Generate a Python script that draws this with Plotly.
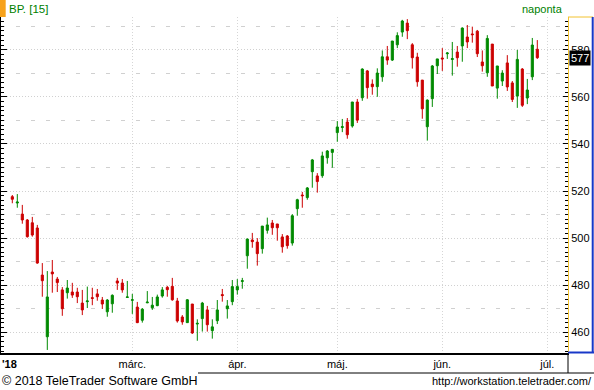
import plotly.graph_objects as go

# Trading-day candles (BP., daily), late Jan 2018 .. end of June 2018
opens = [517.6, 514.9, 510.2, 507.7, 506.5, 504.3, 484.3, 458.1, 485.6, 482.6,
         478.0, 476.8, 477.1, 477.1, 472.4, 473.0, 474.7, 476.3, 473.7, 468.7,
         472.1, 481.8, 480.9, 474.8, 473.6, 470.7, 465.1, 472.5, 470.4, 471.3,
         475.4, 479.1, 479.5, 473.3, 466.5, 464.1, 472.0, 463.5, 465.8, 469.5,
         460.7, 464.9, 476.0, 470.0, 473.0, 478.0, 481.6, 492.5, 499.2, 498.3,
         495.5, 503.3, 506.4, 506.0, 500.5, 500.9, 497.9, 512.5, 518.3, 517.2,
         528.2, 526.4, 526.5, 534.1, 536.4, 544.8, 547.0, 549.3, 547.6, 557.8,
         559.6, 571.0, 565.4, 564.3, 568.5, 577.0, 575.6, 582.1, 587.5, 591.3,
         582.1, 576.9, 567.1, 547.3, 559.2, 573.2, 576.5, 578.3, 575.9, 579.0,
         581.6, 585.4, 586.7, 587.9, 574.8, 570.2, 582.4, 563.7, 566.7, 574.4,
         565.9, 560.3, 571.8, 559.5, 568.5, 580.2]
highs = [518.3, 518.7, 514.1, 508.1, 509.0, 505.6, 489.4, 486.0, 490.7, 483.5,
         479.2, 482.2, 481.0, 478.9, 478.0, 479.4, 478.9, 478.4, 475.0, 474.1,
         476.1, 483.1, 482.6, 481.8, 476.3, 472.9, 470.3, 477.5, 475.0, 476.0,
         479.2, 479.7, 483.1, 474.6, 467.3, 474.1, 472.0, 465.5, 472.9, 471.2,
         465.5, 473.7, 478.4, 473.7, 482.2, 482.6, 483.1, 499.8, 502.2, 500.0,
         505.1, 508.7, 507.7, 506.0, 501.7, 501.3, 510.2, 516.7, 519.6, 521.7,
         533.6, 527.6, 536.7, 537.4, 537.7, 549.7, 550.6, 551.0, 557.8, 559.1,
         572.1, 571.4, 567.4, 572.1, 579.7, 581.6, 583.7, 587.4, 592.7, 593.0,
         582.8, 578.7, 567.1, 558.9, 573.5, 576.1, 580.7, 579.0, 583.3, 581.6,
         589.5, 590.5, 589.8, 588.4, 579.7, 586.2, 582.4, 573.1, 571.3, 577.7,
         566.7, 579.9, 572.2, 567.6, 585.0, 584.1]
lows = [514.8, 512.9, 506.1, 500.2, 500.6, 489.1, 475.1, 452.5, 476.8, 477.1,
        467.0, 474.3, 474.6, 472.4, 467.3, 470.3, 471.5, 473.4, 469.9, 466.6,
        468.3, 478.0, 476.8, 474.6, 467.8, 463.9, 464.1, 472.4, 469.5, 471.1,
        474.7, 475.1, 473.4, 464.1, 463.2, 464.1, 459.3, 456.4, 460.3, 460.3,
        457.3, 463.5, 473.0, 465.8, 471.5, 476.0, 478.5, 487.0, 495.9, 488.3,
        493.4, 501.9, 501.4, 498.9, 493.8, 495.5, 496.8, 509.5, 512.9, 516.3,
        521.4, 519.3, 525.6, 531.6, 529.9, 540.9, 545.0, 542.2, 546.9, 548.9,
        558.3, 559.2, 560.9, 560.0, 566.4, 573.6, 575.2, 580.7, 585.5, 584.5,
        572.0, 564.3, 550.7, 541.4, 555.7, 569.7, 571.0, 576.1, 569.0, 572.8,
        574.9, 580.7, 583.0, 576.9, 570.7, 568.5, 564.6, 559.2, 564.6, 562.5,
        557.8, 555.3, 555.7, 556.9, 567.1, 576.1]
closes = [516.5, 515.3, 507.7, 500.6, 501.3, 489.4, 481.9, 475.0, 484.8, 481.1,
          470.0, 478.8, 475.8, 475.1, 469.5, 473.3, 474.4, 475.1, 472.0, 473.7,
          475.7, 480.9, 478.0, 475.0, 473.8, 464.1, 469.8, 472.8, 471.5, 475.0,
          478.0, 478.1, 473.8, 464.8, 464.4, 473.8, 459.7, 463.8, 472.4, 463.2,
          462.3, 469.5, 475.6, 471.2, 479.4, 479.4, 481.9, 499.6, 498.5, 493.4,
          505.1, 505.6, 504.4, 504.4, 496.3, 496.8, 509.5, 516.3, 518.0, 521.3,
          533.2, 524.0, 534.9, 537.0, 537.7, 547.2, 547.3, 543.9, 557.8, 550.1,
          571.8, 563.9, 564.3, 570.1, 577.0, 575.6, 583.7, 586.0, 592.2, 588.1,
          576.6, 566.4, 554.9, 558.6, 573.1, 576.1, 576.1, 578.6, 576.2, 576.6,
          589.2, 583.3, 586.4, 578.3, 573.2, 584.8, 564.6, 573.1, 570.1, 564.2,
          558.9, 575.9, 556.4, 562.9, 582.0, 576.6]

# month boundaries expressed as trading-day index
month_tick_idx = [24, 45, 65, 86, 107]
month_tick_text = ["márc.", "ápr.", "máj.", "jún.", "júl."]
year_label = "'18"
title_text = "BP. [15]"
period_text = "naponta"

idx = list(range(len(closes)))

FONT = "Liberation Sans, Arial, sans-serif"
W, H = 594, 390
ML, MR, MT, MB = 1, 26, 17, 37
PW, PH = W - ML - MR, H - MT - MB


def px(xpix):
    return (xpix - ML) / PW


def py(ypix):
    return (H - MB - ypix) / PH


yrange = [451.2, 593.9]
xrange_ = [-2.26, 111.14]

fig = go.Figure()
fig.add_trace(go.Candlestick(
    x=idx, open=opens, high=highs, low=lows, close=closes,
    increasing=dict(line=dict(color="#008a00", width=1), fillcolor="#008a00"),
    decreasing=dict(line=dict(color="#cc0000", width=1), fillcolor="#cc0000"),
    whiskerwidth=0, showlegend=False, hoverinfo="skip",
))
fig.add_trace(go.Scatter(x=[], y=[], yaxis="y2", showlegend=False))
fig.add_trace(go.Scatter(x=[], y=[], yaxis="y3", showlegend=False))

fig.update_layout(
    width=W, height=H,
    margin=dict(l=ML, r=MR, t=MT, b=MB, pad=0),
    paper_bgcolor="white", plot_bgcolor="white",
    boxgap=0.4, boxgroupgap=0.3,
    font=dict(family=FONT, size=11, color="black"),
    xaxis=dict(
        range=xrange_, tickmode="array", tickvals=month_tick_idx, ticktext=month_tick_text,
        showgrid=True, gridcolor="#d6d6d6", gridwidth=1, griddash="1px,2px",
        ticks="", showline=True, linecolor="black", linewidth=2, zeroline=False,
        rangeslider=dict(visible=False), tickfont=dict(family=FONT, size=11, color="black"),
        fixedrange=True,
    ),
    yaxis=dict(
        side="right", range=yrange, tick0=460, dtick=20,
        showgrid=True, gridcolor="#d0d0d0", gridwidth=1, griddash="1px,2px",
        ticks="inside", ticklen=5, tickcolor="black", tickwidth=1,
        minor=dict(tick0=460, dtick=2, ticks="inside", ticklen=3, tickcolor="black", showgrid=False),
        showline=True, linecolor="#f2c230", linewidth=1, zeroline=False,
        tickfont=dict(family=FONT, size=11, color="black"), fixedrange=True,
    ),
    yaxis2=dict(
        overlaying="y", side="left", range=yrange, tick0=470, dtick=20,
        showgrid=True, gridcolor="#d0d0d0", gridwidth=1, griddash="4px,11px",
        ticks="", showticklabels=False, showline=False, zeroline=False, fixedrange=True,
    ),
    yaxis3=dict(
        overlaying="y", side="left", range=yrange, tick0=460, dtick=20,
        showgrid=False, ticks="inside", ticklen=6, tickcolor="black",
        minor=dict(tick0=460, dtick=2, ticks="inside", ticklen=3, tickcolor="black", showgrid=False),
        showticklabels=False, showline=True, linecolor="black", linewidth=1,
        zeroline=False, fixedrange=True,
    ),
)

shapes = [
    # orange marker top-left
    dict(type="rect", xref="paper", yref="paper", x0=px(0), x1=px(5.7), y0=py(17), y1=py(0),
         fillcolor="#f7a21b", line=dict(width=0)),
    # right price panel frame
    dict(type="line", xref="paper", yref="paper", x0=px(568), x1=px(593), y0=py(17), y1=py(17),
         line=dict(color="#f2c230", width=1)),
    dict(type="line", xref="paper", yref="paper", x0=px(592.7), x1=px(592.7), y0=py(17), y1=py(353),
         line=dict(color="#1838c8", width=2)),
    dict(type="line", xref="paper", yref="paper", x0=px(568), x1=px(594), y0=py(352.5), y1=py(352.5),
         line=dict(color="#1838c8", width=2)),
    # bottom footer separator
    dict(type="line", xref="paper", yref="paper", x0=px(198), x1=px(594), y0=py(373), y1=py(373),
         line=dict(color="black", width=1)),
    dict(type="line", xref="paper", yref="paper", x0=px(568), x1=px(568), y0=py(354), y1=py(373),
         line=dict(color="black", width=1)),
]
fig.update_layout(shapes=shapes)

annotations = [
    dict(text=title_text, xref="paper", yref="paper", x=px(7), y=py(9), xanchor="left",
         yanchor="middle", showarrow=False, font=dict(family=FONT, size=11.5, color="#008000")),
    dict(text=period_text, xref="paper", yref="paper", x=px(565), y=py(9), xanchor="right",
         yanchor="middle", showarrow=False, font=dict(family=FONT, size=11, color="#008000")),
    dict(text="<b>" + year_label + "</b>", xref="paper", yref="paper", x=px(0), y=py(364),
         xanchor="left", yanchor="middle", showarrow=False, font=dict(family=FONT, size=11, color="black")),
    dict(text="© 2018 TeleTrader Software GmbH", xref="paper", yref="paper", x=px(0), y=py(381),
         xanchor="left", yanchor="middle", showarrow=False, font=dict(family=FONT, size=12.5, color="black")),
    dict(text="http://workstation.teletrader.com/", xref="paper", yref="paper", x=px(594), y=py(381),
         xanchor="right", yanchor="middle", showarrow=False, font=dict(family=FONT, size=11, color="black")),
    dict(text=str(round(closes[-1])), xref="paper", yref="y", x=px(569), y=closes[-1],
         xanchor="left", yanchor="middle", showarrow=False, bgcolor="black", borderpad=1,
         font=dict(family=FONT, size=11, color="white")),
]
fig.update_layout(annotations=annotations)

fig.write_html(
    "out.html",
    config={"displayModeBar": False, "staticPlot": True},
    post_script="document.body.style.margin='0';document.body.style.overflow='hidden';",
)
